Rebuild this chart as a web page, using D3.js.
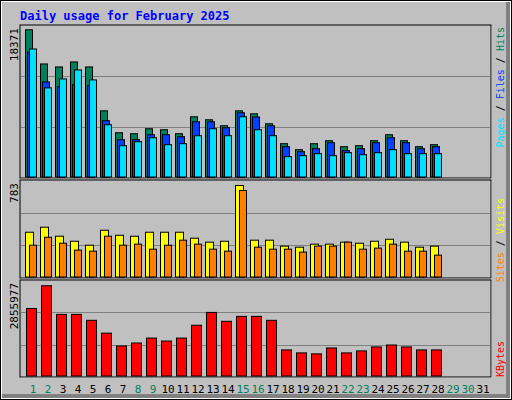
<!DOCTYPE html>
<html>
<head>
<meta charset="utf-8">
<script src="https://cdn.jsdelivr.net/npm/d3@7"></script>
<style>
  body { margin: 0; background: #fff; }
  text { font-family: "DejaVu Sans Mono", monospace; }
</style>
</head>
<body>
<div id="chart"></div>
<script>
var days = d3.range(1, 32);
var greenDays = [1, 2, 8, 9, 15, 16, 22, 23, 29, 30];

var hits = [18371, 14107, 13734, 14356, 13734, 8260, 5523, 5399, 6021, 5897, 5399, 7514, 7141, 6394,
  8260, 7887, 6643, 4155, 3409, 4155, 4528, 3782, 3906, 4528, 5275, 4528, 3782, 4031];
var files = [15600, 11868, 11283, 11532, 11407, 7016, 4653, 4653, 5275, 5275, 5026, 6892, 6892, 6145,
  8011, 7489, 6394, 3782, 3160, 3533, 4279, 3284, 3533, 4279, 4901, 4279, 3533, 3782];
var pages = [15973, 11121, 12241, 13361, 12117, 6519, 3906, 4404, 4901, 4031, 4155, 5150, 6021, 5150,
  7514, 5897, 5150, 2538, 2662, 2911, 2662, 3035, 2787, 3035, 3409, 2911, 2911, 2911];
var visits = [383, 426, 349, 306, 272, 400, 357, 349, 383, 383, 383, 332, 298, 306,
  783, 315, 315, 264, 255, 281, 281, 298, 289, 306, 323, 298, 255, 264];
var sites = [272, 340, 289, 230, 221, 349, 272, 281, 238, 272, 315, 281, 238, 221,
  740, 255, 238, 238, 213, 264, 264, 298, 238, 247, 281, 221, 221, 187];
var kbytes = [2137000, 2855977, 1950000, 1950000, 1762000, 1356000, 950000, 1044000, 1200000, 1106000,
  1200000, 1606000, 2012000, 1731000, 1887000, 1887000, 1762000, 825000, 731000, 700000, 887000,
  731000, 794000, 919000, 981000, 919000, 825000, 825000];

var W = 512, H = 400;
var left = 20, right = 491;

var svg = d3.select("#chart").append("svg")
  .attr("width", W).attr("height", H);

// frame with bevel
svg.append("rect").attr("x", 0).attr("y", 0).attr("width", W).attr("height", H).attr("fill", "#000");
svg.append("rect").attr("x", 1).attr("y", 1).attr("width", W - 2).attr("height", H - 2).attr("fill", "#fff");
svg.append("rect").attr("x", 2).attr("y", 2).attr("width", W - 4).attr("height", H - 4).attr("fill", "#808080");
svg.append("rect").attr("x", 2).attr("y", 2).attr("width", W - 8).attr("height", H - 8).attr("fill", "#c0c0c0");

svg.append("text").attr("x", 20).attr("y", 20)
  .attr("font-size", 12).attr("font-weight", "bold").attr("fill", "#0000ff")
  .text("Daily usage for February 2025");

var x = d3.scaleLinear().domain([1, 31]).range([25, 25 + 15 * 30]);

function panel(top, bottom, max, series, label) {
  var y = d3.scaleLinear().domain([0, max]).range([bottom - 1.5, top + 1]);
  svg.append("rect").attr("x", left + 1).attr("y", top + 1)
    .attr("width", right - left).attr("height", bottom - top).attr("fill", "#fff");
  svg.append("rect").attr("x", left).attr("y", top)
    .attr("width", right - left).attr("height", bottom - top)
    .attr("fill", "#c0c0c0").attr("stroke", "#000");
  var h = bottom - top;
  [1 / 3, 2 / 3].forEach(function (f) {
    svg.append("line").attr("x1", left + 1).attr("x2", right - 1)
      .attr("y1", Math.round(top + h * f) + 0.5).attr("y2", Math.round(top + h * f) + 0.5)
      .attr("stroke", "#808080");
  });
  series.forEach(function (s) {
    svg.append("g").selectAll("rect").data(s.values).enter().append("rect")
      .attr("x", function (d, i) { return x(i + 1) + s.off + 0.5; })
      .attr("y", function (d) { return y(d) + 0.5; })
      .attr("width", s.w)
      .attr("height", function (d) { return y(0) - y(d); })
      .attr("fill", s.color).attr("stroke", "#000");
  });
  svg.append("text")
    .attr("transform", "translate(18," + (top + 3) + ") rotate(-90)")
    .attr("text-anchor", "end").attr("font-size", 11)
    .attr("font-family", "DejaVu Sans, sans-serif")
    .attr("fill", "#000").text(label);
}

panel(25, 178, 18371 * 151 / 147.7, [
  { values: hits, color: "#00805c", off: 0, w: 7 },
  { values: files, color: "#0040ff", off: 2, w: 7 },
  { values: pages, color: "#00e0ff", off: 4, w: 7 }
], "18371");

panel(180, 278, 783 * 96 / 92, [
  { values: visits, color: "#ffff00", off: 0, w: 8 },
  { values: sites, color: "#ff8000", off: 4, w: 7 }
], "783");

panel(280, 377, 2855977 * 95.7 / 91.4, [
  { values: kbytes, color: "#ff0000", off: 1, w: 10 }
], "2855977");

// day labels
svg.append("g").selectAll("text").data(days).enter().append("text")
  .attr("x", function (d) { return x(d) + 8; })
  .attr("y", 393)
  .attr("text-anchor", "middle")
  .attr("font-size", 11)
  .attr("font-family", "DejaVu Sans, sans-serif")
  .attr("fill", function (d) { return greenDays.indexOf(d) >= 0 ? "#00805c" : "#000"; })
  .text(function (d) { return d; });

// right side legends
function legend(yPos, anchor, parts) {
  var t = svg.append("text")
    .attr("transform", "translate(504," + yPos + ") rotate(-90)")
    .attr("text-anchor", anchor).attr("font-size", 10);
  parts.forEach(function (p) {
    t.append("tspan").attr("fill", p[1]).text(p[0]);
  });
}
legend(27, "end", [["Pages", "#00e0ff"], [" / ", "#000"], ["Files", "#0040ff"], [" / ", "#000"], ["Hits", "#00805c"]]);
legend(198, "end", [["Sites", "#ff8000"], [" / ", "#000"], ["Visits", "#ffff00"]]);
legend(377, "start", [["KBytes", "#ff0000"]]);
</script>
</body>
</html>
